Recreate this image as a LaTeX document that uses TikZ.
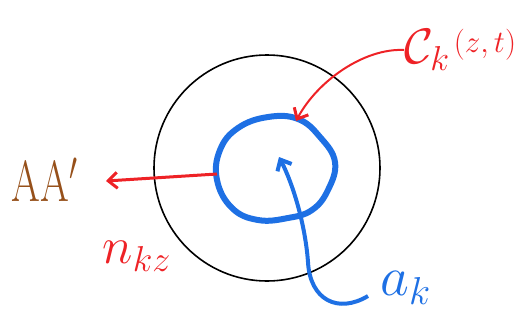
\documentclass[tikz,border=0pt]{standalone}
\usepackage{amsmath,amssymb}
\usepackage{graphicx}
\usepackage{xcolor}
\usepackage{tikz}
\usetikzlibrary{arrows.meta,positioning}

\definecolor{inkred}{RGB}{238,34,38}
\definecolor{inkblue}{RGB}{30,112,228}
\definecolor{inkbrown}{RGB}{150,80,26}

\begin{document}
\begin{tikzpicture}[
        x=1pt, y=-1pt,
        lbl/.style={inner sep=0pt, font=\huge},
        redarr/.style={-{Straight Barb[length=9pt,width=16pt,line width=3pt]}, line width=3pt, draw=inkred},
        bluearr/.style={-{Straight Barb[length=9pt,width=16pt,line width=4pt]}, line width=4pt, draw=inkblue}
    ]
        \useasboundingbox (0,0) rectangle (531,322);

        % outer region and inner contour
        \draw[black, line width=1.6pt] (267,168) circle[radius=113];
        \draw[inkblue, line width=6pt] plot[smooth cycle, tension=0.7] coordinates
            {(217,180) (220,150) (238,128) (268,117) (298,119) (320,137) (335,162)
             (328,190) (312,210) (288,218) (258,220) (232,208)};

        \coordinate (blobW) at (217,174);
        \coordinate (blobN) at (296,121);
        \coordinate (blobC) at (279,157);
        \coordinate (nhead) at (106,181);
        \coordinate (aktail) at (368,296);

        % labels
        \node[lbl, text=inkbrown] (aa) at (45,180) {\scalebox{2}[2.8]{AA$'$}};
        \node[lbl, text=inkred, anchor=west] (ck) at (404,50)
            {\scalebox{2.4}{$\mathcal{C}_{k}$}\,\raisebox{1.2ex}{\scalebox{1.5}{$(z,t)$}}};
        \node[lbl, text=inkred] (nkz) at (137,256) {\scalebox{2.5}{$n_{kz}$}};
        \node[lbl, text=inkblue] (ak) at (406,288) {\scalebox{2.7}{$a_k$}};

        % arrows
        \draw[redarr] (blobW) -- (nhead);
        \draw[redarr, line width=2pt] (ck.west) .. controls (365,48) and (318,80) .. (blobN);
        \draw[bluearr] (aktail) .. controls (338,314) and (310,300) .. (308,262)
            .. controls (305,222) and (292,182) .. (blobC);
    \end{tikzpicture}
\end{document}
